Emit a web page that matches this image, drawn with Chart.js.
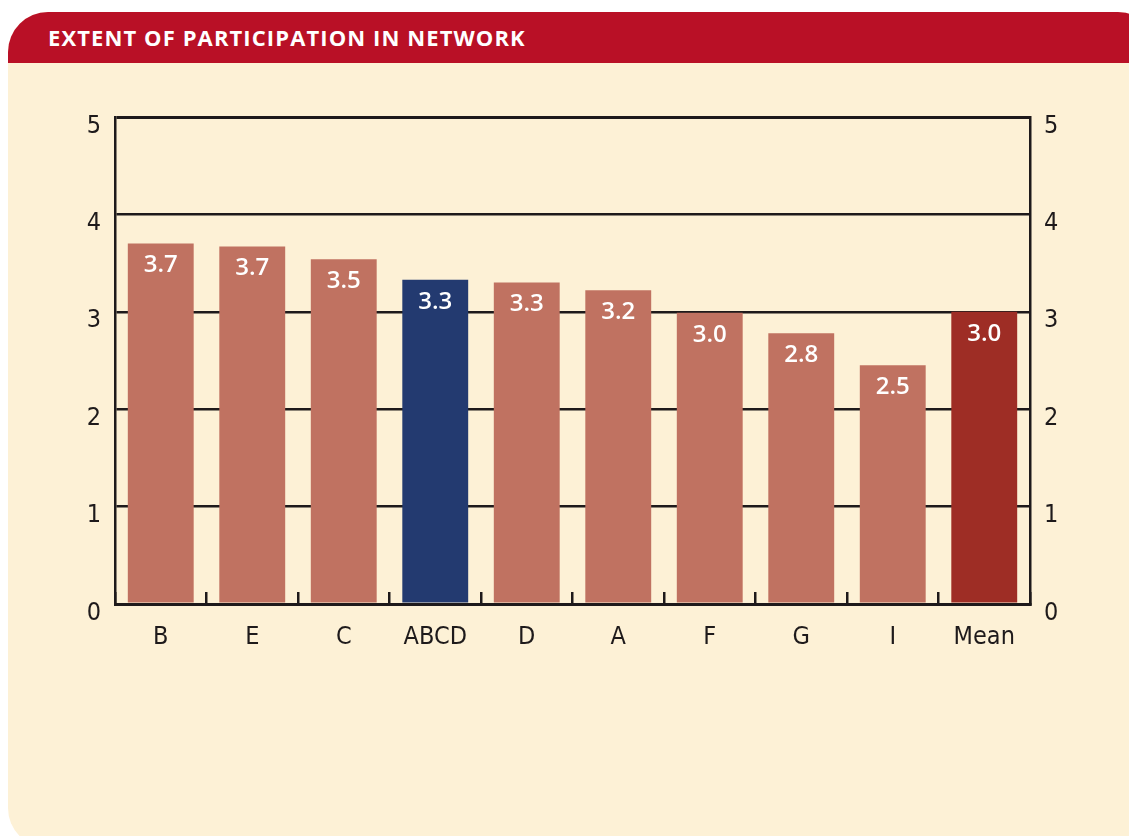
<!DOCTYPE html>
<html>
<head>
<meta charset="utf-8">
<script src="https://cdn.jsdelivr.net/npm/chart.js@4"></script>
<style>
  html, body { margin: 0; padding: 0; background: #ffffff; width: 1129px; height: 836px; overflow: hidden; }
  #panel {
    position: absolute; left: 8px; top: 12px; width: 1150px; height: 836px;
    background: #fdf1d6; border-radius: 40px; overflow: hidden;
  }
  #header {
    position: absolute; left: 0; top: 0; width: 100%; height: 51px; background: #b91026;
  }
  #title {
    position: absolute; left: 40px; top: 11px; color: #ffffff;
    font-family: 'Open Sans', 'Noto Sans', sans-serif; font-weight: 700; font-size: 22px;
    letter-spacing: 1.1px; line-height: 28px; white-space: nowrap;
  }
  #wrap { position: absolute; left: 0; top: 0; width: 1129px; height: 836px; }
</style>
</head>
<body>
<div id="panel"><div id="header"></div><div id="title">EXTENT OF PARTICIPATION IN NETWORK</div></div>
<div id="wrap"><canvas id="c" width="1129" height="836"></canvas></div>
<script>
// ---- data ----
const categories = ['B', 'E', 'C', 'ABCD', 'D', 'A', 'F', 'G', 'I', 'Mean'];
const values = [3.70, 3.67, 3.54, 3.33, 3.30, 3.22, 2.99, 2.78, 2.45, 3.00];
const valueLabels = ['3.7', '3.7', '3.5', '3.3', '3.3', '3.2', '3.0', '2.8', '2.5', '3.0'];
const yTicks = [0, 1, 2, 3, 4, 5];

// ---- styles ----
const SALMON = '#c07261';
const NAVY = '#233a70';
const MEAN = '#9e2d25';
const INK = '#1e1a1b';
const FONT = "'Liberation Sans Narrow', 'DejaVu Sans Condensed', 'Open Sans', sans-serif";

const barColors = categories.map(c => c === 'ABCD' ? NAVY : (c === 'Mean' ? MEAN : SALMON));

const valueLabelPlugin = {
  id: 'valueLabels',
  afterDraw(chart) {
    const ctx = chart.ctx;
    const meta = chart.getDatasetMeta(0);
    ctx.save();
    ctx.fillStyle = '#ffffff';
    ctx.font = "600 24px 'Open Sans', 'Noto Sans', sans-serif";
    ctx.textAlign = 'center';
    ctx.textBaseline = 'middle';
    meta.data.forEach((bar, i) => {
      ctx.fillText(valueLabels[i], bar.x, bar.y + 22);
    });
    ctx.restore();
  }
};

new Chart(document.getElementById('c'), {
  type: 'bar',
  data: {
    labels: categories,
    datasets: [{
      data: values,
      backgroundColor: barColors,
      borderWidth: 0,
      barPercentage: 0.8,
      categoryPercentage: 0.9
    }]
  },
  options: {
    responsive: false,
    animation: false,
    devicePixelRatio: 1,
    layout: { padding: { top: 117, left: 0, right: 0, bottom: 0 } },
    plugins: { legend: { display: false }, tooltip: { enabled: false }, title: { display: false } },
    scales: {
      x: {
        z: 1,
        grid: {
          offset: true,
          drawOnChartArea: false,
          drawTicks: true,
          tickLength: -12,
          color: INK,
          lineWidth: 2.5
        },
        border: { display: true, color: INK, width: 3 },
        ticks: {
          color: INK,
          padding: 30,
          font: { family: FONT, size: 25 }
        },
        afterFit(scale) { scale.height = 232; }
      },
      y: {
        z: 1,
        position: 'left',
        min: 0, max: 5,
        afterBuildTicks(scale) { scale.ticks = yTicks.map(v => ({ value: v })); },
        grid: {
          drawTicks: false,
          color: INK,
          lineWidth: ctx => (ctx.tick && (ctx.tick.value === 5 || ctx.tick.value === 0)) ? 3 : 2.5
        },
        border: { display: true, color: INK, width: 2.5 },
        ticks: {
          color: INK,
          padding: 14,
          labelOffset: 9,
          font: { family: FONT, size: 25 }
        },
        afterFit(scale) { scale.width = 115; }
      },
      y2: {
        z: 1,
        position: 'right',
        min: 0, max: 5,
        afterBuildTicks(scale) { scale.ticks = yTicks.map(v => ({ value: v })); },
        grid: { display: false, drawOnChartArea: false, drawTicks: false },
        border: { display: true, color: INK, width: 2.5 },
        ticks: {
          color: INK,
          padding: 14,
          labelOffset: 9,
          font: { family: FONT, size: 25 }
        },
        afterFit(scale) { scale.width = 99; }
      }
    }
  },
  plugins: [valueLabelPlugin]
});
</script>
</body>
</html>
